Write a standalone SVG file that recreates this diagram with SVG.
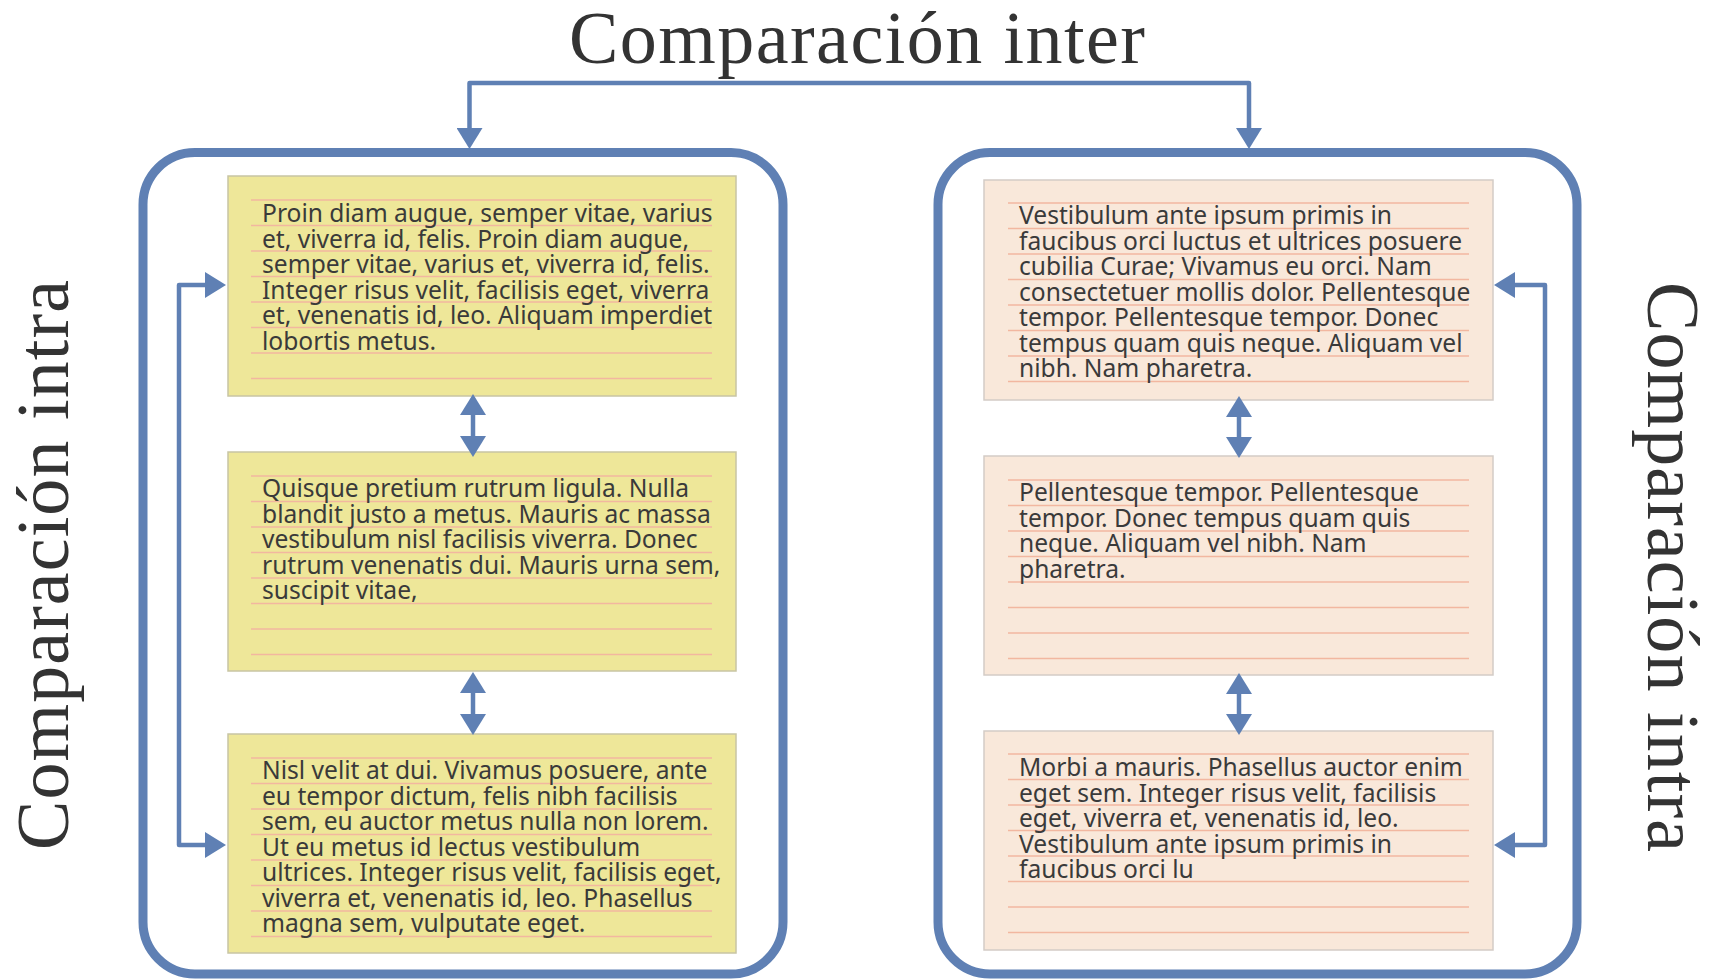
<svg xmlns="http://www.w3.org/2000/svg" width="1715" height="979" viewBox="0 0 1715 979">
  <style>
    .title { font-family: "Liberation Serif", serif; font-size: 74px; fill: #333333; }
    .outer { fill: none; stroke: #5f80b4; stroke-width: 9; }
    .yellow { fill: #eee799; stroke: #c8c5a4; stroke-width: 1.5; }
    .peach { fill: #f9e8da; stroke: #d3ccc6; stroke-width: 1.5; }
    .rule { stroke: #f2b7a0; stroke-width: 1.6; }
    .body { font-family: "Noto Sans", "Open Sans", sans-serif; font-size: 24.6px; fill: #3a3a3a; }
    .conn { fill: none; stroke: #5f80b4; stroke-width: 4.5; stroke-linejoin: round; }
  </style>
  <defs>
    <marker id="arrow" viewBox="0 0 21 26" refX="0" refY="13" markerWidth="21" markerHeight="26" markerUnits="userSpaceOnUse" orient="auto-start-reverse">
      <path d="M0,0 L21,13 L0,26 Z" fill="#5f80b4"/>
    </marker>
    <g id="rules">
      <line class="rule" x1="0" y1="0" x2="461" y2="0"/>
      <line class="rule" x1="0" y1="25.5" x2="461" y2="25.5"/>
      <line class="rule" x1="0" y1="51" x2="461" y2="51"/>
      <line class="rule" x1="0" y1="76.5" x2="461" y2="76.5"/>
      <line class="rule" x1="0" y1="102" x2="461" y2="102"/>
      <line class="rule" x1="0" y1="127.5" x2="461" y2="127.5"/>
      <line class="rule" x1="0" y1="153" x2="461" y2="153"/>
      <line class="rule" x1="0" y1="178.5" x2="461" y2="178.5"/>
    </g>
  </defs>

  <g id="title-inter">
    <text class="title" x="857" y="63" text-anchor="middle" textLength="576">Comparación inter</text>
  </g>
  <g id="title-intra-left">
    <text class="title" transform="translate(68,565) rotate(-90)" text-anchor="middle" textLength="570">Comparación intra</text>
  </g>
  <g id="title-intra-right">
    <text class="title" transform="translate(1648,567) rotate(90)" text-anchor="middle" textLength="570">Comparación intra</text>
  </g>

  <g id="group-left">
    <rect class="outer" x="143" y="152.5" width="640" height="821.5" rx="52" ry="52"/>
  </g>
  <g id="group-right">
    <rect class="outer" x="938" y="152.5" width="639" height="821.5" rx="52" ry="52"/>
  </g>

  <g id="note-l1">
    <rect class="yellow" x="228" y="176" width="508" height="220"/>
    <use href="#rules" x="251" y="200"/>
    <text class="body" x="262" y="222">
      <tspan x="262" dy="0">Proin diam augue, semper vitae, varius</tspan>
      <tspan x="262" dy="25.5">et, viverra id, felis. Proin diam augue,</tspan>
      <tspan x="262" dy="25.5">semper vitae, varius et, viverra id, felis.</tspan>
      <tspan x="262" dy="25.5">Integer risus velit, facilisis eget, viverra</tspan>
      <tspan x="262" dy="25.5">et, venenatis id, leo. Aliquam imperdiet</tspan>
      <tspan x="262" dy="25.5">lobortis metus.</tspan>
    </text>
  </g>
  <g id="note-l2">
    <rect class="yellow" x="228" y="452" width="508" height="219"/>
    <use href="#rules" x="251" y="476"/>
    <text class="body" x="262" y="497">
      <tspan x="262" dy="0">Quisque pretium rutrum ligula. Nulla</tspan>
      <tspan x="262" dy="25.5">blandit justo a metus. Mauris ac massa</tspan>
      <tspan x="262" dy="25.5">vestibulum nisl facilisis viverra. Donec</tspan>
      <tspan x="262" dy="25.5">rutrum venenatis dui. Mauris urna sem,</tspan>
      <tspan x="262" dy="25.5">suscipit vitae,</tspan>
    </text>
  </g>
  <g id="note-l3">
    <rect class="yellow" x="228" y="734" width="508" height="219"/>
    <use href="#rules" x="251" y="758"/>
    <text class="body" x="262" y="779">
      <tspan x="262" dy="0">Nisl velit at dui. Vivamus posuere, ante</tspan>
      <tspan x="262" dy="25.5">eu tempor dictum, felis nibh facilisis</tspan>
      <tspan x="262" dy="25.5">sem, eu auctor metus nulla non lorem.</tspan>
      <tspan x="262" dy="25.5">Ut eu metus id lectus vestibulum</tspan>
      <tspan x="262" dy="25.5">ultrices. Integer risus velit, facilisis eget,</tspan>
      <tspan x="262" dy="25.5">viverra et, venenatis id, leo. Phasellus</tspan>
      <tspan x="262" dy="25.5">magna sem, vulputate eget.</tspan>
    </text>
  </g>

  <g id="note-r1">
    <rect class="peach" x="984" y="180" width="509" height="220"/>
    <use href="#rules" x="1008" y="203"/>
    <text class="body" x="1019" y="224">
      <tspan x="1019" dy="0">Vestibulum ante ipsum primis in</tspan>
      <tspan x="1019" dy="25.5">faucibus orci luctus et ultrices posuere</tspan>
      <tspan x="1019" dy="25.5">cubilia Curae; Vivamus eu orci. Nam</tspan>
      <tspan x="1019" dy="25.5">consectetuer mollis dolor. Pellentesque</tspan>
      <tspan x="1019" dy="25.5">tempor. Pellentesque tempor. Donec</tspan>
      <tspan x="1019" dy="25.5">tempus quam quis neque. Aliquam vel</tspan>
      <tspan x="1019" dy="25.5">nibh. Nam pharetra.</tspan>
    </text>
  </g>
  <g id="note-r2">
    <rect class="peach" x="984" y="456" width="509" height="219"/>
    <use href="#rules" x="1008" y="480"/>
    <text class="body" x="1019" y="501">
      <tspan x="1019" dy="0">Pellentesque tempor. Pellentesque</tspan>
      <tspan x="1019" dy="25.5">tempor. Donec tempus quam quis</tspan>
      <tspan x="1019" dy="25.5">neque. Aliquam vel nibh. Nam</tspan>
      <tspan x="1019" dy="25.5">pharetra.</tspan>
    </text>
  </g>
  <g id="note-r3">
    <rect class="peach" x="984" y="731" width="509" height="219"/>
    <use href="#rules" x="1008" y="754"/>
    <text class="body" x="1019" y="776">
      <tspan x="1019" dy="0">Morbi a mauris. Phasellus auctor enim</tspan>
      <tspan x="1019" dy="25.5">eget sem. Integer risus velit, facilisis</tspan>
      <tspan x="1019" dy="25.5">eget, viverra et, venenatis id, leo.</tspan>
      <tspan x="1019" dy="25.5">Vestibulum ante ipsum primis in</tspan>
      <tspan x="1019" dy="25.5">faucibus orci lu</tspan>
    </text>
  </g>

  <g id="connectors">
    <path class="conn" d="M469.5,128 V83 H1249 V128" marker-start="url(#arrow)" marker-end="url(#arrow)"/>
    <path class="conn" d="M205,285 H179 V845 H205" marker-start="url(#arrow)" marker-end="url(#arrow)"/>
    <path class="conn" d="M1515,285 H1545 V845 H1515" marker-start="url(#arrow)" marker-end="url(#arrow)"/>
    <path class="conn" d="M473,415 V436" marker-start="url(#arrow)" marker-end="url(#arrow)"/>
    <path class="conn" d="M473,693 V714" marker-start="url(#arrow)" marker-end="url(#arrow)"/>
    <path class="conn" d="M1239,417 V437" marker-start="url(#arrow)" marker-end="url(#arrow)"/>
    <path class="conn" d="M1239,694 V714" marker-start="url(#arrow)" marker-end="url(#arrow)"/>
  </g>
</svg>
